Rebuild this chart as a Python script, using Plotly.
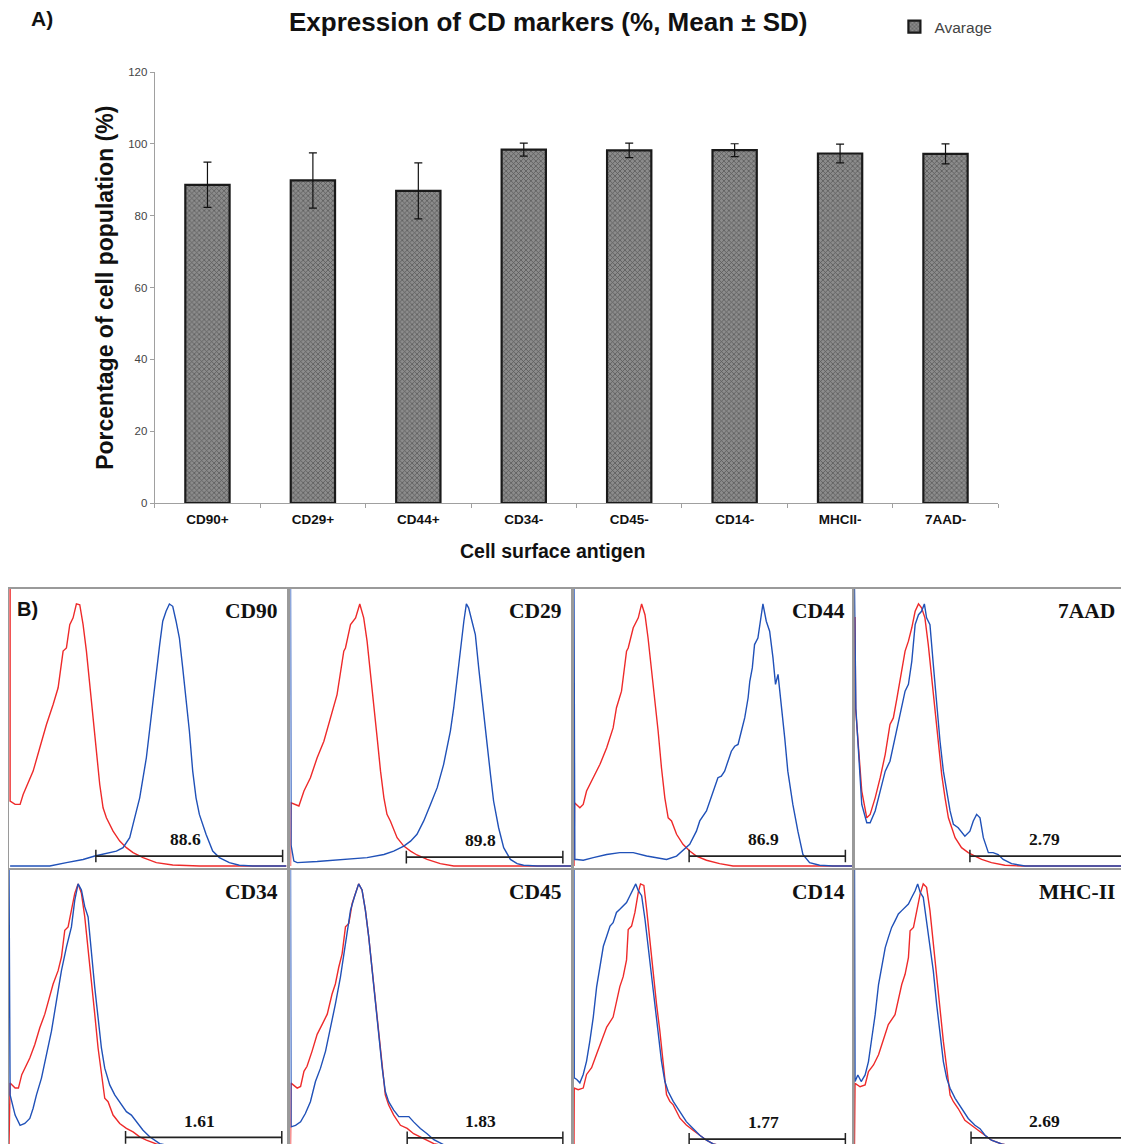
import plotly.graph_objects as go

# ---------------- Panel A data ----------------
antigens = ["CD90+", "CD29+", "CD44+", "CD34-", "CD45-", "CD14-", "MHCII-", "7AAD-"]
mean_pct = [88.6, 89.8, 86.9, 98.39, 98.17, 98.23, 97.31, 97.21]
sd_pct = [6.3, 7.7, 7.8, 1.8, 2.0, 1.8, 2.6, 2.8]
y_ticks = [0, 20, 40, 60, 80, 100, 120]

# ---------------- Panel B data (channel 0-100, relative count 0-100) ----------------
CD90_RED = [(0.4,106),(0.4,24.8),(2.2,23.5),(4,23.5),(5.1,27.3),(6.3,30.5),(8.7,36.2),(11.1,45.1),(13.5,54),(15.9,61.6),(17.7,68),(19.5,82),(20.7,83.2),(21.9,92.1),(23.1,94.7),(24.3,100),(25.5,99.7),(26.7,92.1),(27.9,82),(29.1,69.3),(30.3,56.6),(31.5,43.8),(32.7,31.1),(33.9,22.2),(35.1,18.4),(37.5,13.3),(39.9,9.5),(42.3,7),(44.7,5.1),(48.3,3.2),(53.1,1.3),(59,0.4),(68.6,0),(100,0)]
CD90_BLUE = [(0.4,0),(14.7,0),(20.7,1.3),(26.7,2.5),(30.9,3.8),(35.1,4.7),(38.7,5.7),(41.1,7),(43.5,10.8),(44.7,15.9),(47.1,26),(49.5,41.3),(50.7,52.7),(51.9,64.2),(53.1,75.6),(54.3,84.5),(55.4,93.4),(56.6,97.2),(57.8,100),(59,99.1),(60.2,93.4),(61.4,87),(62.6,75.6),(63.8,64.2),(65,51.5),(66.2,36.2),(67.4,26),(68.6,19.7),(71,12.1),(73.4,5.7),(75.8,3.2),(79.4,1.3),(83,0.3),(87.8,0),(100,0)]

CD29_RED = [(0,0),(0.2,24.1),(3,22.9),(4.8,28.6),(7.1,33.7),(9.5,41.3),(11.9,47.6),(14.3,56.5),(15.4,61.6),(16.6,65.4),(19,82),(19.6,83.2),(21.4,92.1),(23.2,94.7),(24.7,100),(26.1,94.7),(27.3,85.8),(28.5,74.3),(29.7,61.6),(30.9,48.9),(32.1,36.2),(33.3,26),(34.4,19.7),(35.6,17.2),(38,10.8),(40.4,7.6),(42.8,5.7),(45.1,4.2),(48.7,2.5),(53.4,0.9),(58.2,0),(100,0)]
CD29_BLUE = [(0,106),(0.2,8),(1.2,1.9),(2.4,1.3),(9.5,1.7),(15.4,2.2),(21.4,2.5),(27.3,3.2),(33.3,4.4),(36.8,5.7),(40.4,7.6),(42.8,9.5),(45.1,12.1),(47.5,17.2),(49.9,23.5),(52.3,29.9),(54.6,38.8),(57,51.5),(58.2,60.4),(59.4,71.8),(60.6,83.2),(61.8,93.4),(62.7,100),(63.5,98.5),(64.7,93.4),(65.9,88.3),(67.1,75.6),(68.3,62.9),(70.1,46.4),(71.3,34.9),(72.4,24.8),(74.2,14.6),(76,7),(78.4,2.5),(80.8,0.9),(83.1,0.3),(87.9,0),(100,0)]

CD44_RED = [(0,0),(0.2,24.1),(2.1,22.2),(3.3,23.5),(4.5,28.6),(6.9,33.7),(9.3,38.8),(11.7,45.1),(14,52.7),(15.2,60.4),(17,66.7),(18.8,82),(19.4,83.2),(21.2,90.9),(23,94.7),(24.2,100),(25.4,95.9),(26.5,87),(27.7,75.6),(28.9,64.2),(30.1,51.5),(31.3,37.5),(32.5,26),(33.7,18.4),(34.9,17.2),(36.7,12.1),(39,8.3),(41.4,5.7),(43.8,3.8),(47.4,2.2),(52.1,0.9),(56.9,0),(100,0)]
CD44_BLUE = [(0,106),(0.3,2.5),(1,2.5),(3.3,2.2),(6.9,3.2),(11.7,4.4),(16.4,5.1),(21.2,5.1),(26,3.8),(30.7,2.9),(33.1,2.5),(36.7,3.8),(39.6,6.4),(41.4,8.3),(43.8,13.3),(45,17.2),(47.4,21),(49.8,28.6),(51.5,33.7),(52.7,34.3),(53.9,36.2),(55.1,40),(56.3,43.8),(57.5,45.7),(58.7,46.4),(59.9,51.5),(61.1,56.6),(62.3,64.2),(62.9,70.5),(63.8,75.6),(64.6,84.5),(65.8,87),(67,94.7),(67.6,100),(68.8,93.4),(70,89.6),(71.2,79.4),(72.1,69.3),(73,73.1),(74.2,61.6),(75.4,48.9),(76.5,36.2),(78.3,23.5),(80.1,13.3),(81.9,4.4),(84.3,1.3),(87.9,0.3),(92.6,0),(100,0)]

AAD7_RED = [(0.2,95),(0.4,60),(2.6,28.6),(4.4,18.4),(5.6,19.7),(7.4,26),(9.2,33.7),(11,42.6),(12.7,54),(13.9,56.5),(15.1,63.5),(16.9,75.6),(18.1,82),(19.3,85.8),(20.5,90.9),(21.7,97.2),(22.9,100),(24,98.5),(25.2,94.7),(26.4,84.5),(27.6,71.8),(28.8,59.1),(30,46.4),(31.2,34.9),(32.4,26),(33.6,18.4),(34.8,14.6),(36,10.8),(38.3,7),(40.7,5.1),(43.1,3.8),(45.5,2.5),(49,1.3),(53.8,0.3),(59.8,0),(97.5,0)]
AAD7_BLUE = [(0,106),(0.5,60),(2.6,23.5),(4.4,16.5),(5.6,16.5),(7.4,21),(9.2,28.6),(11,36.2),(12.7,40),(14.5,48.9),(16.3,56.5),(18.1,66.7),(19.3,69.3),(20.5,78.1),(21.7,92.1),(22.9,95.9),(24,97.2),(25,100),(25.8,94.7),(27,92.1),(28.2,76.9),(29.4,61.6),(30.6,47.6),(31.8,36.2),(33,28.6),(34.2,21),(35.4,15.9),(37.1,14.6),(39.5,11.4),(41.3,13.3),(42.5,17.2),(43.7,19.7),(44.9,18.4),(46.1,10.8),(47.9,5.1),(49.6,5.1),(51.4,4.4),(53.2,2.5),(56.2,0.9),(61,0),(97.5,0)]

CD34_RED = [(0,0),(0.4,24),(2.2,22.1),(3.4,22.1),(4.6,27.2),(5.7,29.7),(7.5,33.6),(9.3,38.7),(11.1,45.1),(12.9,50.3),(14.7,56.7),(15.9,61.8),(17.7,66.9),(18.9,72.1),(20.1,82.3),(21.3,83.6),(22.5,90),(23.7,96.4),(24.9,100),(26.1,96.4),(27.3,87.4),(28.5,75.9),(29.7,63.1),(30.9,50.3),(32.1,37.4),(33.3,27.2),(34.5,18.2),(35.7,16.9),(37.5,11.8),(39.9,8.6),(42.3,6.7),(44.7,5.4),(47.1,3.5),(49.5,2.2),(53.1,0.8),(57,0),(100,0)]
CD34_BLUE = [(0,106),(0.4,19.5),(2.2,11.8),(4,7.9),(5.7,8.6),(7.5,10.5),(8.7,14.4),(9.9,19.5),(11.7,25.9),(13.5,34.9),(15.3,43.8),(17.1,55.4),(18.9,66.9),(20.7,75.9),(22.5,83.6),(23.7,93.8),(24.9,100),(26.1,97.7),(27.3,91.3),(28.5,87.4),(29.7,73.3),(30.9,60.5),(32.1,49),(33.3,37.4),(34.5,29.7),(36.3,23.3),(38.1,19.5),(39.9,16.9),(42.3,13.1),(44.1,11.8),(45.9,9.2),(48.3,6),(50.7,3.5),(54.3,0.9),(58,0),(100,0)]

CD45_RED = [(0,0),(0.2,24),(2.4,22.1),(3.6,22.7),(4.8,28.5),(5.9,30.4),(7.7,36.2),(9.5,42.6),(11.3,46.4),(13.1,50.3),(14.8,57.9),(16,61.8),(17.2,68.2),(18.4,73.3),(19.6,83.6),(20.8,84.9),(22,92.6),(23.2,96.4),(24.3,100),(25.5,97.7),(26.7,90),(27.9,79.7),(29.1,66.9),(30.3,54.1),(31.5,41.3),(32.7,29.7),(33.8,19.5),(35,15.6),(36.8,11.8),(39.2,7.9),(41.6,6.7),(43.9,4.7),(47.5,2.8),(51.1,0.9),(55,0),(100,0)]
CD45_BLUE = [(0,106),(0.2,7.3),(1.8,7.9),(3.6,9.2),(5.3,12.4),(7.1,16.9),(8.9,24.6),(10.7,29.7),(12.5,36.2),(14.3,45.1),(16,54.1),(17.8,64.4),(19.6,77.2),(21.4,90),(22.8,95.1),(24.3,100),(25.5,97.7),(26.7,90),(27.9,79.7),(29.1,66.9),(30.3,54.1),(31.5,41.3),(32.7,29.7),(33.8,20.8),(35,16.9),(36.8,13.7),(38.6,11.2),(40.4,11.2),(42.2,11.2),(43.9,9.2),(46.3,6.7),(48.7,4.7),(51.1,2.4),(54.6,0.5),(58,0),(100,0)]

CD14_RED = [(0,0),(0.1,22.1),(1.5,21.5),(3.3,22.1),(4.5,27.3),(6.3,29.9),(8.1,35.1),(9.9,40.3),(11.7,45.4),(14,49.2),(15.2,55.6),(16.4,60.8),(17.6,64.6),(18.8,71),(19.4,82.6),(20.6,83.9),(21.8,89.1),(23,96.8),(23.8,100),(25,99.4),(26,90.3),(27.1,78.8),(28.3,67.2),(29.5,54.4),(30.7,44),(31.9,31.1),(33.1,19.6),(34.3,17),(35.5,15.7),(37.9,10.6),(40.2,8),(42.6,6),(45,4.1),(47.4,2.2),(49.8,0.8),(53,0),(100,0)]
CD14_BLUE = [(0,106),(0.1,26),(1,25.4),(2.1,24.1),(3.3,27.3),(4.5,32.4),(5.7,40.2),(6.9,49.2),(8.1,60.7),(9.3,68.5),(10.5,76.2),(11.7,80),(12.9,83.9),(14,85.2),(15.2,89.1),(16.4,90.3),(17.6,91.6),(18.8,92.9),(20,95.5),(21.2,98.1),(22.1,100),(23,97.4),(24.2,95.5),(25.4,86.5),(26.5,76.2),(27.7,67.2),(28.9,54.3),(30.1,42.7),(31.3,32.4),(32.5,24.7),(33.7,20.8),(35.5,17),(37.9,13.1),(40.2,9.3),(42.6,6.7),(45,4.1),(47.4,2.2),(49.8,0.8),(53,0),(100,0)]

MHC_RED = [(0,0),(0.2,23.9),(2,22.6),(3.8,23.3),(5,28.4),(6.8,30.9),(8.6,34.8),(10.4,41.2),(12.1,46.3),(14.5,50.1),(15.7,56.5),(16.9,61.6),(18.1,65.5),(19.3,71.9),(19.9,82.1),(21.1,83.4),(22.3,89.8),(23.5,96.2),(24.6,100),(25.8,98.7),(27,89.8),(28.2,77),(29.4,64.2),(30.6,51.4),(31.8,39.9),(33,29.7),(34.2,19.4),(35.4,16.9),(37.1,14.3),(39.5,9.8),(41.9,7.9),(44.3,6),(46.7,4.1),(49,2.2),(52.6,0.8),(56,0),(97.5,0)]
MHC_BLUE = [(0,106),(0.2,24.6),(1.2,27.1),(2.4,24.6),(3.8,27.1),(5,32.2),(6.2,41.2),(7.4,50.1),(8.6,61.6),(9.8,69.3),(11,75.7),(12.1,79.5),(13.3,83.4),(14.5,85.9),(15.7,88.5),(16.9,89.8),(18.1,91),(19.3,92.3),(20.5,94.9),(21.7,97.4),(22.6,100),(23.5,96.8),(24.6,94.9),(25.8,85.9),(27,75.7),(28.2,66.8),(29.4,54),(30.6,42.5),(31.8,32.2),(33,25.8),(34.2,22),(36,18.2),(38.3,14.3),(40.7,10.5),(43.1,7.9),(44.9,6.6),(46.7,4.1),(49,2.2),(52.6,0.8),(56,0),(97.5,0)]

panel_names = ["CD90", "CD29", "CD44", "7AAD", "CD34", "CD45", "CD14", "MHC-II"]
panel_red = [CD90_RED, CD29_RED, CD44_RED, AAD7_RED, CD34_RED, CD45_RED, CD14_RED, MHC_RED]
panel_blue = [CD90_BLUE, CD29_BLUE, CD44_BLUE, AAD7_BLUE, CD34_BLUE, CD45_BLUE, CD14_BLUE, MHC_BLUE]
gate_pct = ["88.6", "89.8", "86.9", "2.79", "1.61", "1.83", "1.77", "2.69"]
gate_start = [31.3, 41.3, 41.2, 41.3, 42.0, 41.6, 41.2, 41.7]
gate_end = [98.6, 97.1, 97.1, 97.5, 98.3, 97.1, 97.1, 97.5]
gate_level = [3.8, 3.4, 3.8, 3.8, 3.3, 3.1, 2.6, 3.1]

# ---------------- figure geometry (page has an 8px body margin) ----------------
OFF = 8
W, H = 1129 - OFF, 1144 - OFF


def px_x(p):
    return (p - OFF) / W


def px_y(p):
    return 1 - (p - OFF) / H


SANS = "Liberation Sans, Arial, sans-serif"
SERIF = "Liberation Serif, Times New Roman, serif"
RED = "#ee2a2a"
BLUE = "#2051b8"

fig = go.Figure()

fig.add_trace(go.Bar(
    x=antigens, y=mean_pct, name="Avarage",
    width=0.42,
    marker=dict(color="#777777", line=dict(color="#1a1a1a", width=2.2),
                pattern=dict(shape="x", size=3.5, solidity=0.4, fgcolor="#262626", bgcolor="#8c8c8c")),
    error_y=dict(type="data", array=sd_pct, color="#111", thickness=1.2, width=4),
    xaxis="x", yaxis="y", showlegend=True,
))

col_px = [(9, 287), (291, 572), (575, 855), (856, 1129)]
row_px = [(589, 868), (870, 1144)]
row_yrange = [[-0.76, 105.7], [0.76, 105.3]]

layout_axes = {}
annotations = []
for i, name in enumerate(panel_names):
    r, c = divmod(i, 4)
    ax = i + 2
    xa, ya = f"x{ax}", f"y{ax}"
    x0, x1 = col_px[c]
    y0, y1 = row_px[r]
    xr = [0, 100] if c < 3 else [0, (x1 - x0) / 2.8]
    layout_axes[f"xaxis{ax}"] = dict(domain=[px_x(x0), px_x(x1)], range=xr, anchor=ya,
                                     showticklabels=False, showgrid=False, zeroline=False,
                                     showline=True, mirror=True, linecolor="#9a9a9a", linewidth=1.6, ticks="")
    layout_axes[f"yaxis{ax}"] = dict(domain=[px_y(y1), px_y(y0)], range=row_yrange[r], anchor=xa,
                                     showticklabels=False, showgrid=False, zeroline=False,
                                     showline=True, mirror=True, linecolor="#9a9a9a", linewidth=1.6, ticks="")
    rx = [p[0] for p in panel_red[i]]
    ry = [p[1] for p in panel_red[i]]
    bx = [p[0] for p in panel_blue[i]]
    by = [p[1] for p in panel_blue[i]]
    fig.add_trace(go.Scatter(x=rx, y=ry, mode="lines", line=dict(color=RED, width=1.4),
                             xaxis=xa, yaxis=ya, showlegend=False, hoverinfo="skip"))
    fig.add_trace(go.Scatter(x=bx, y=by, mode="lines", line=dict(color=BLUE, width=1.4),
                             xaxis=xa, yaxis=ya, showlegend=False, hoverinfo="skip"))
    fig.add_trace(go.Scatter(x=[gate_start[i], gate_end[i]], y=[gate_level[i], gate_level[i]],
                             mode="lines+markers", line=dict(color="#222", width=1.8),
                             marker=dict(symbol="line-ns", size=9, line=dict(color="#222", width=1.5)),
                             xaxis=xa, yaxis=ya, showlegend=False, hoverinfo="skip"))
    annotations.append(dict(x=(gate_start[i] + gate_end[i]) / 2 - 1.5, y=gate_level[i] + 1.8,
                            xref=xa, yref=ya, text=f"<b>{gate_pct[i]}</b>", showarrow=False,
                            xanchor="center", yanchor="bottom",
                            font=dict(family=SERIF, size=17.5, color="#111")))
    annotations.append(dict(x=0.975 if c < 3 else 0.965, y=0.97, xref=f"{xa} domain", yref=f"{ya} domain",
                            text=f"<b>{name}</b>", showarrow=False, xanchor="right", yanchor="top",
                            font=dict(family=SERIF, size=21.5, color="#111")))

annotations += [
    dict(x=px_x(29), y=px_y(18), xref="paper", yref="paper", text="<b>A)</b>", showarrow=False,
         xanchor="left", yanchor="middle", font=dict(family=SANS, size=21, color="#111")),
    dict(x=px_x(549), y=px_y(22), xref="paper", yref="paper",
         text="<b>Expression of CD markers (%, Mean ± SD)</b>", showarrow=False,
         xanchor="center", yanchor="middle", font=dict(family=SANS, size=26, color="#111")),
    dict(x=px_x(105), y=px_y(288), xref="paper", yref="paper",
         text="<b>Porcentage of cell population (%)</b>", showarrow=False, textangle=-90,
         xanchor="center", yanchor="middle", font=dict(family=SANS, size=23, color="#111")),
    dict(x=px_x(553), y=px_y(551), xref="paper", yref="paper", text="<b>Cell surface antigen</b>",
         showarrow=False, xanchor="center", yanchor="middle", font=dict(family=SANS, size=19.5, color="#111")),
    dict(x=px_x(15), y=px_y(609), xref="paper", yref="paper", text="<b>B)</b>", showarrow=False,
         xanchor="left", yanchor="middle", font=dict(family=SANS, size=20, color="#111")),
]

fig.update_layout(
    width=W, height=H, autosize=False,
    margin=dict(l=0, r=0, t=0, b=0),
    paper_bgcolor="white", plot_bgcolor="white",
    bargap=0.58,
    xaxis=dict(domain=[px_x(155), px_x(1000)], anchor="y", showline=True, linecolor="#a0a0a0", linewidth=1.2,
               ticks="outside", tickson="boundaries", ticklen=4, tickcolor="#a0a0a0",
               tickfont=dict(family=SANS, size=13.5, color="#111", weight="bold"), ticklabelstandoff=4,
               showgrid=False, zeroline=False, automargin=False),
    yaxis=dict(domain=[px_y(503), px_y(72)], anchor="x", range=[0, 120], tickvals=y_ticks,
               showline=True, linecolor="#a0a0a0", linewidth=1.2, ticks="outside", ticklen=4,
               tickcolor="#a0a0a0", tickfont=dict(family=SANS, size=11.5, color="#444"),
               showgrid=False, zeroline=False, automargin=False),
    legend=dict(x=px_x(896), y=px_y(27), xanchor="left", yanchor="middle", bgcolor="rgba(0,0,0,0)",
                font=dict(family=SANS, size=15.5, color="#444"), itemwidth=30),
    annotations=annotations,
    **layout_axes,
)

fig.write_html("out.html")
